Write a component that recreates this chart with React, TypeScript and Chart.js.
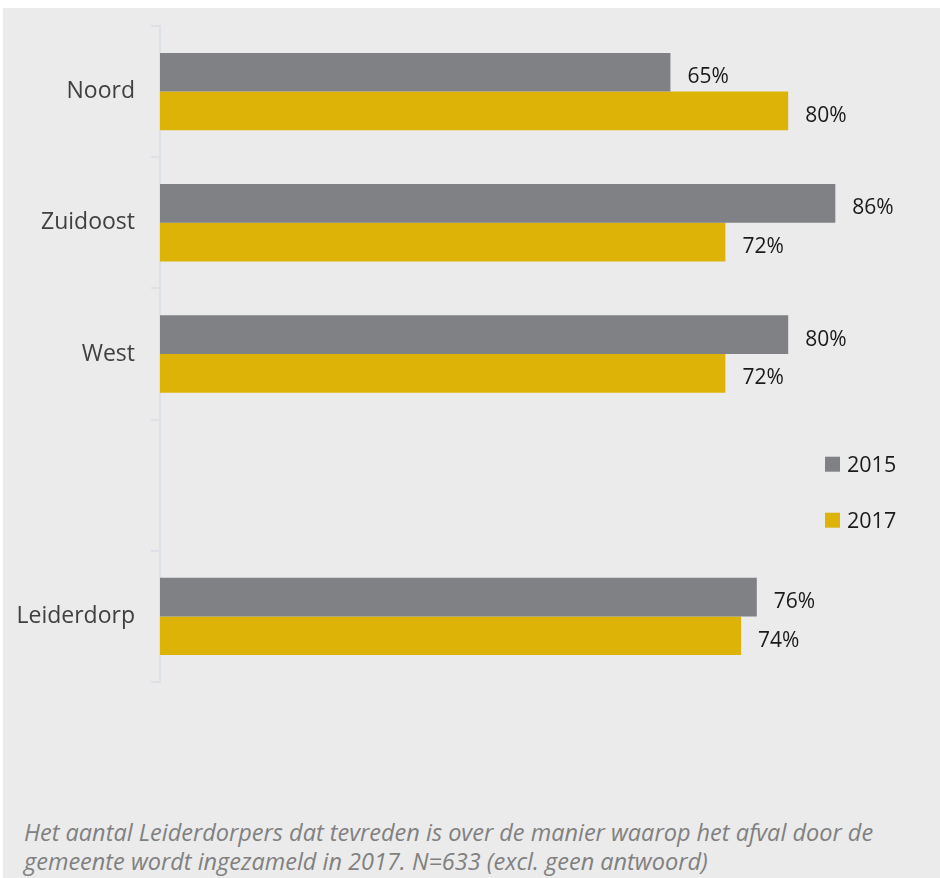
import React, { useEffect, useRef } from "react";
import { Chart, registerables } from "chart.js";

Chart.register(...registerables);

const categories = ["Noord", "Zuidoost", "West", "", "Leiderdorp"];
const series2015 = [65, 86, 80, null, 76];
const series2017 = [80, 72, 72, null, 74];
const seriesLabels = ["2015", "2017"];
const seriesColors = ["#808184", "#DEB308"];
const caption =
  "Het aantal Leiderdorpers dat tevreden is over de manier waarop het afval door de gemeente wordt ingezameld in 2017. N=633 (excl. geen antwoord)";

const FONT = "'Open Sans', 'Noto Sans', sans-serif";

const valueLabelPlugin = {
  id: "valueLabels",
  afterDatasetsDraw(chart: any) {
    const ctx = chart.ctx;
    ctx.save();
    ctx.font = `21px ${FONT}`;
    ctx.fillStyle = "#1a1a1a";
    ctx.textAlign = "left";
    ctx.textBaseline = "middle";
    chart.data.datasets.forEach((ds: any, di: number) => {
      const meta = chart.getDatasetMeta(di);
      meta.data.forEach((bar: any, i: number) => {
        const v = ds.data[i];
        if (v === null || v === undefined) return;
        ctx.fillText(`${v}%`, bar.x + 17, bar.y + 5);
      });
    });
    ctx.restore();
  },
};

const legendPlugin = {
  id: "customLegend",
  afterDraw(chart: any) {
    const ctx = chart.ctx;
    const area = chart.chartArea;
    const yScale = chart.scales.y;
    const center = yScale.getPixelForValue(3);
    const offsets = [-21, 35];
    ctx.save();
    ctx.font = `21.5px ${FONT}`;
    ctx.textAlign = "left";
    ctx.textBaseline = "middle";
    chart.data.datasets.forEach((ds: any, di: number) => {
      const cy = center + offsets[di];
      const x = area.left + 665;
      ctx.fillStyle = ds.backgroundColor;
      ctx.fillRect(x, cy - 7.5, 15, 15);
      ctx.fillStyle = "#1a1a1a";
      ctx.fillText(ds.label, x + 22, cy + 2);
    });
    ctx.restore();
  },
};

export default function App() {
  const canvasRef = useRef<HTMLCanvasElement | null>(null);

  useEffect(() => {
    if (!canvasRef.current) return;
    const chart = new Chart(canvasRef.current, {
      type: "bar",
      data: {
        labels: categories,
        datasets: [
          {
            label: seriesLabels[0],
            data: series2015,
            backgroundColor: seriesColors[0],
            categoryPercentage: 0.59,
            barPercentage: 1,
          },
          {
            label: seriesLabels[1],
            data: series2017,
            backgroundColor: seriesColors[1],
            categoryPercentage: 0.59,
            barPercentage: 1,
          },
        ],
      },
      options: {
        indexAxis: "y",
        animation: false,
        responsive: false,
        maintainAspectRatio: false,
        layout: { padding: { top: 18, bottom: 46, right: 34, left: 0 } },
        plugins: {
          legend: { display: false },
          tooltip: { enabled: false },
        },
        scales: {
          x: {
            display: false,
            min: 0,
            max: 95,
          },
          y: {
            afterFit(scale: any) {
              scale.width = 157;
              scale.paddingTop = 0;
              scale.paddingBottom = 0;
            },
            grid: {
              offset: true,
              drawOnChartArea: false,
              drawTicks: true,
              tickLength: 9,
              color: "#DCE1E8",
              lineWidth: 2,
            },
            border: { display: true, color: "#DCE1E8", width: 2 },
            ticks: {
              padding: 16,
              color: "#404040",
              font: { family: FONT, size: 23 },
            },
          },
        },
      },
      plugins: [valueLabelPlugin, legendPlugin],
    });
    return () => chart.destroy();
  }, []);

  return (
    <div
      style={{
        position: "fixed",
        left: 3,
        top: 8,
        width: 937,
        height: 870,
        background: "#EBEBEB",
        overflow: "hidden",
      }}
    >
      <canvas ref={canvasRef} width={937} height={720} style={{ display: "block" }} />
      <div
        style={{
          position: "absolute",
          left: 21,
          top: 810,
          width: 885,
          fontFamily: FONT,
          fontStyle: "italic",
          fontSize: 23.5,
          lineHeight: "29px",
          color: "#808080",
        }}
      >
        {caption}
      </div>
    </div>
  );
}
